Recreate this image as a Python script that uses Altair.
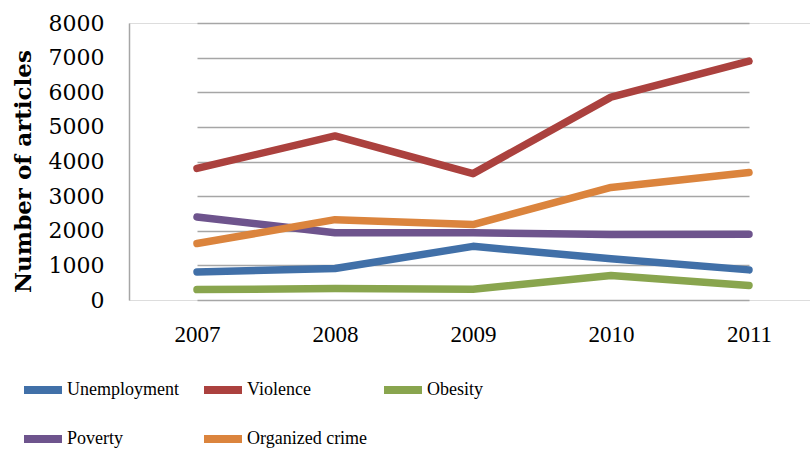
import altair as alt
import pandas as pd

years = ["2007", "2008", "2009", "2010", "2011"]
series_names = ["Unemployment", "Violence", "Obesity", "Poverty", "Organized crime"]
unemployment = [810, 910, 1550, 1190, 870]
violence = [3800, 4740, 3650, 5860, 6900]
obesity = [300, 330, 310, 710, 420]
poverty = [2400, 1940, 1940, 1890, 1900]
organized_crime = [1630, 2320, 2180, 3250, 3680]
colors = ["#4170a8", "#ab413e", "#89a54e", "#6e548d", "#db843d"]
y_ticks = [0, 1000, 2000, 3000, 4000, 5000, 6000, 7000, 8000]

values = [unemployment, violence, obesity, poverty, organized_crime]
rows = []
for i, (name, vals) in enumerate(zip(series_names, values)):
    for y, v in zip(years, vals):
        rows.append({"Year": y, "Series": name, "Articles": v, "order": i})
df = pd.DataFrame(rows)

chart = alt.Chart(df).mark_line(strokeWidth=7.5, strokeCap="round", strokeJoin="round").encode(
    x=alt.X("Year:N", sort=years,
            scale=alt.Scale(type="point", range=[68, 620], padding=0),
            axis=alt.Axis(title=None, domain=False, ticks=False, grid=False, labelAngle=0,
                          labelFont="Liberation Serif", labelFontSize=23, labelColor="#000000",
                          labelPadding=23)),
    y=alt.Y("Articles:Q", scale=alt.Scale(domain=[0, 8000], nice=False),
            axis=alt.Axis(title="Number of articles", values=y_ticks, format="d",
                          ticks=False, domain=True, domainColor="#a6a6a6", domainWidth=1.5,
                          grid=True, gridColor="#a6a6a6", gridWidth=1.5,
                          labelFont="DejaVu Serif", labelFontSize=22, labelColor="#000000",
                          labelPadding=25,
                          titleFont="DejaVu Serif", titleFontSize=23, titleFontWeight="bold",
                          titleColor="#000000", titleAngle=270, titleAlign="center",
                          titleBaseline="middle", titleX=-106, titleY=148)),
    color=alt.Color("Series:N", sort=series_names,
                    scale=alt.Scale(domain=series_names, range=colors),
                    legend=alt.Legend(title=None, orient="none", legendX=-109, legendY=344,
                                      direction="horizontal", columns=3, gridAlign="all",
                                      columnPadding=0, rowPadding=10,
                                      symbolType="stroke", symbolSize=1444, symbolStrokeWidth=8,
                                      labelOffset=1, labelFont="Liberation Serif",
                                      labelFontSize=18, labelColor="#000000",
                                      padding=0)),
    order=alt.Order("order:Q"),
).properties(
    width=681, height=277,
    autosize=alt.AutoSizeParams(type="none"),
    padding={"left": 129, "top": 23, "right": 0, "bottom": 150},
).configure_view(stroke=None).configure(background="#ffffff")

chart.save("out.html", embed_options={"renderer": "svg", "actions": False})
